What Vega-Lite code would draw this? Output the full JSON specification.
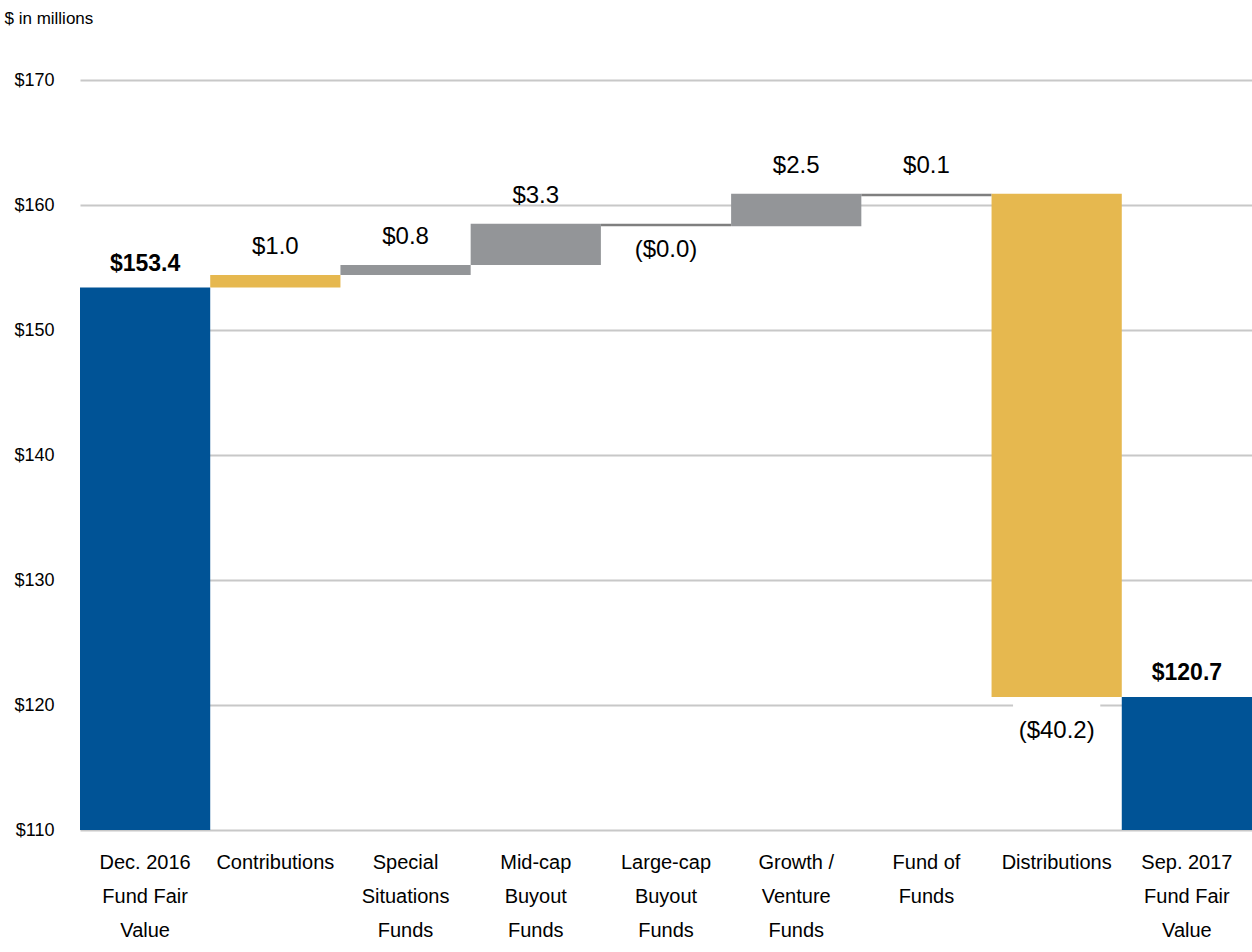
{
  "$schema": "https://vega.github.io/schema/vega-lite/v6.json",
  "width": 1172,
  "height": 750,
  "autosize": "none",
  "padding": {"left": 80, "top": 80, "right": 0, "bottom": 122},
  "background": "white",
  "config": {
    "view": {"stroke": null},
    "font": "Liberation Sans",
    "text": {"font": "Liberation Sans"}
  },
  "data": {
    "values": [
      {"cat": "Dec. 2016|Fund Fair|Value", "start": 110, "end": 153.4, "label": "$153.4", "kind": "total", "dir": "up"},
      {"cat": "Contributions", "start": 153.4, "end": 154.4, "label": "$1.0", "kind": "flow", "dir": "up"},
      {"cat": "Special|Situations|Funds", "start": 154.4, "end": 155.2, "label": "$0.8", "kind": "fund", "dir": "up"},
      {"cat": "Mid-cap|Buyout|Funds", "start": 155.2, "end": 158.5, "label": "$3.3", "kind": "fund", "dir": "up"},
      {"cat": "Large-cap|Buyout|Funds", "start": 158.5, "end": 158.3, "label": "($0.0)", "kind": "line", "dir": "down"},
      {"cat": "Growth /|Venture|Funds", "start": 158.3, "end": 160.9, "label": "$2.5", "kind": "fund", "dir": "up"},
      {"cat": "Fund of|Funds", "start": 160.7, "end": 160.9, "label": "$0.1", "kind": "line", "dir": "up"},
      {"cat": "Distributions", "start": 160.9, "end": 120.65, "label": "($40.2)", "kind": "flow", "dir": "down"},
      {"cat": "Sep. 2017|Fund Fair|Value", "start": 110, "end": 120.65, "label": "$120.7", "kind": "total", "dir": "up"}
    ]
  },
  "encoding": {
    "x": {
      "field": "cat",
      "type": "nominal",
      "sort": null,
      "scale": {"paddingInner": 0, "paddingOuter": 0},
      "axis": {
        "title": null,
        "labelAngle": 0,
        "labelExpr": "split(datum.value, '|')",
        "labelFont": "Liberation Sans",
        "labelFontSize": 20,
        "labelLineHeight": 34,
        "labelColor": "black",
        "labelPadding": 22,
        "labelBaseline": "top",
        "domain": false,
        "ticks": false,
        "grid": false
      }
    }
  },
  "layer": [
    {
      "mark": {"type": "bar", "clip": true},
      "encoding": {
        "y": {
          "field": "end",
          "type": "quantitative",
          "scale": {"domain": [110, 170], "nice": false, "zero": false},
          "axis": {
            "values": [110, 120, 130, 140, 150, 160, 170],
            "labelExpr": "'$' + datum.value",
            "labelFont": "Liberation Sans",
            "labelFontSize": 18,
            "labelColor": "black",
            "labelPadding": 26,
            "domain": false,
            "ticks": false,
            "grid": true,
            "gridColor": "#c8c8c8",
            "gridWidth": 2,
            "title": "$ in millions",
            "titleAngle": 0,
            "titleAlign": "left",
            "titleBaseline": "middle",
            "titleX": -76,
            "titleY": -62,
            "titleFont": "Liberation Sans",
            "titleFontSize": 17,
            "titleFontWeight": "normal",
            "titleColor": "black"
          }
        },
        "y2": {"field": "start"},
        "color": {
          "field": "kind",
          "type": "nominal",
          "scale": {
            "domain": ["total", "flow", "fund", "line"],
            "range": ["#005396", "#E6B84F", "#939598", "#7f7f7f"]
          },
          "legend": null
        }
      }
    },
    {
      "transform": [{"filter": "datum.cat == 'Distributions'"}],
      "mark": {"type": "bar", "color": "white", "width": {"band": 0.67}},
      "encoding": {
        "y": {"datum": 120.3, "type": "quantitative"},
        "y2": {"datum": 117}
      }
    },
    {
      "transform": [{"filter": "datum.dir == 'up' && datum.kind != 'total'"}],
      "mark": {"type": "text", "baseline": "bottom", "dy": -16, "fontSize": 24, "color": "black"},
      "encoding": {
        "y": {"field": "end", "type": "quantitative"},
        "text": {"field": "label"}
      }
    },
    {
      "transform": [{"filter": "datum.kind == 'total'"}],
      "mark": {"type": "text", "baseline": "bottom", "dy": -12, "fontSize": 23, "fontWeight": "bold", "color": "black"},
      "encoding": {
        "y": {"field": "end", "type": "quantitative"},
        "text": {"field": "label"}
      }
    },
    {
      "transform": [{"filter": "datum.cat == 'Large-cap|Buyout|Funds'"}],
      "mark": {"type": "text", "baseline": "top", "dy": 12, "fontSize": 24, "color": "black"},
      "encoding": {
        "y": {"field": "end", "type": "quantitative"},
        "text": {"field": "label"}
      }
    },
    {
      "transform": [{"filter": "datum.cat == 'Distributions'"}],
      "mark": {"type": "text", "baseline": "top", "dy": 22, "fontSize": 24, "color": "black"},
      "encoding": {
        "y": {"field": "end", "type": "quantitative"},
        "text": {"field": "label"}
      }
    }
  ]
}
